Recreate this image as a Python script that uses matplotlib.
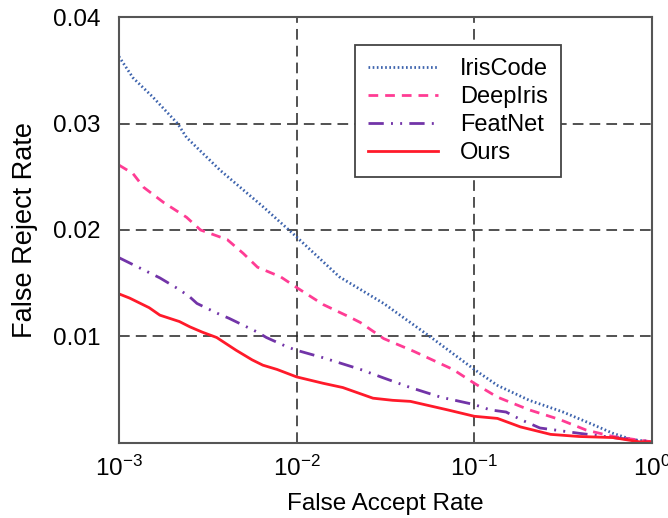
import numpy as np
import matplotlib
matplotlib.use('Agg')
import matplotlib.pyplot as plt

plt.rcParams['font.family'] = ['Liberation Sans', 'DejaVu Sans']
plt.rcParams['mathtext.fontset'] = 'custom'
plt.rcParams['mathtext.rm'] = 'Liberation Sans'
plt.rcParams['mathtext.it'] = 'Liberation Sans'

# curves (FAR, FRR)
iris_far = [1e-3, 1.20e-3, 1.55e-3, 2.14e-3, 2.40e-3, 3.72e-3, 6.46e-3, 9.77e-3,
            1.74e-2, 3.09e-2, 5.62e-2, 1e-1, 1.35e-1, 2.04e-1, 3.16e-1, 4.68e-1,
            6.03e-1, 7.76e-1, 1.0]
iris_frr = [0.0363, 0.0343, 0.0325, 0.0300, 0.0287, 0.0256, 0.0222, 0.0195,
            0.0156, 0.0131, 0.0100, 0.0069, 0.0054, 0.0040, 0.0029, 0.0017,
            0.0009, 0.0003, 0.0001]

deep_far = [1e-3, 1.20e-3, 1.38e-3, 1.78e-3, 2.40e-3, 2.88e-3, 4.07e-3, 5.01e-3,
            6.03e-3, 8.13e-3, 1e-2, 1.41e-2, 2.0e-2, 2.29e-2, 3.09e-2, 4.57e-2,
            7.59e-2, 1e-1, 1.35e-1, 2.04e-1, 3.02e-1, 4.27e-1, 6.03e-1, 1.0]
deep_frr = [0.0261, 0.0253, 0.0240, 0.0226, 0.0212, 0.0200, 0.0191, 0.0178,
            0.0165, 0.0156, 0.0146, 0.0130, 0.0118, 0.0113, 0.0098, 0.0086,
            0.0069, 0.0056, 0.0043, 0.0031, 0.0022, 0.0012, 0.0006, 0.0001]

feat_far = [1e-3, 1.15e-3, 1.70e-3, 2.19e-3, 2.51e-3, 2.75e-3, 3.55e-3, 4.17e-3,
            6.03e-3, 6.76e-3, 8.91e-3, 1e-2, 1.41e-2, 2.29e-2, 3.09e-2, 4.37e-2,
            6.46e-2, 1e-1, 1.23e-1, 1.51e-1, 1.82e-1, 2.34e-1, 2.88e-1, 3.89e-1,
            4.90e-1, 6.03e-1, 1.0]
feat_frr = [0.0174, 0.0169, 0.0155, 0.0144, 0.0137, 0.0131, 0.0122, 0.0117,
            0.0104, 0.0099, 0.0090, 0.0087, 0.0080, 0.0069, 0.0061, 0.0052,
            0.0043, 0.0036, 0.0031, 0.0029, 0.0022, 0.0014, 0.0012, 0.0009,
            0.0007, 0.0005, 0.0001]

ours_far = [1e-3, 1.15e-3, 1.48e-3, 1.70e-3, 2.19e-3, 2.51e-3, 2.95e-3, 3.55e-3,
            4.57e-3, 5.62e-3, 6.46e-3, 7.76e-3, 1e-2, 1.41e-2, 1.82e-2, 2.69e-2,
            3.47e-2, 4.37e-2, 7.08e-2, 1e-1, 1.35e-1, 1.82e-1, 2.69e-1, 3.89e-1,
            6.03e-1, 8.51e-1, 1.0]
ours_frr = [0.0140, 0.0136, 0.0127, 0.0120, 0.0114, 0.0109, 0.0104, 0.0099,
            0.0087, 0.0078, 0.0073, 0.0069, 0.0062, 0.0056, 0.0052, 0.0042,
            0.0040, 0.0039, 0.0031, 0.0025, 0.0023, 0.0015, 0.0008, 0.0006,
            0.0005, 0.0001, 0.0001]

x_ticks = [1e-3, 1e-2, 1e-1, 1e0]
x_tick_labels = [r'$\mathregular{10^{-3}}$', r'$\mathregular{10^{-2}}$',
                 r'$\mathregular{10^{-1}}$', r'$\mathregular{10^{0}}$']
y_ticks = [0.01, 0.02, 0.03, 0.04]
y_tick_labels = ['0.01', '0.02', '0.03', '0.04']

fig = plt.figure(figsize=(6.68, 5.18), dpi=100)
ax = fig.add_axes([0.178, 0.145, 0.798, 0.822])

ax.plot(iris_far, iris_frr, color='#3d63ad', lw=2.0, linestyle=(0, (0.6, 0.9)),
        label='IrisCode')
ax.plot(deep_far, deep_frr, color='#ff3c94', lw=2.0, linestyle=(0, (3.5, 2.5)),
        label='DeepIris')
ax.plot(feat_far, feat_frr, color='#7234a8', lw=2.0,
        linestyle=(0, (5.5, 2.6, 0.7, 2.6, 0.7, 2.6)), label='FeatNet')
ax.plot(ours_far, ours_frr, color='#ff1a2a', lw=2.0, label='Ours')

ax.set_xscale('log')
ax.set_xlim(1e-3, 1)
ax.set_ylim(0, 0.04)
ax.set_xticks(x_ticks)
ax.set_xticklabels(x_tick_labels)
ax.xaxis.set_minor_locator(matplotlib.ticker.NullLocator())
ax.set_yticks(y_ticks)
ax.set_yticklabels(y_tick_labels)
ax.tick_params(axis='x', length=0, labelsize=17.5, pad=9)
ax.tick_params(axis='y', length=0, labelsize=17.5, pad=13)

for v in [1e-2, 1e-1]:
    ax.axvline(v, color='#222222', lw=1.1, linestyle=(0, (7, 4)), zorder=0)
for v in [0.01, 0.02, 0.03]:
    ax.axhline(v, color='#222222', lw=1.1, linestyle=(0, (7, 4)), zorder=0)

for s in ax.spines.values():
    s.set_color('#555555')
    s.set_linewidth(1.5)

ax.set_xlabel('False Accept Rate', fontsize=17.5, labelpad=9)
ax.set_ylabel('False Reject Rate', fontsize=19.5, labelpad=11)

leg = ax.legend(loc='upper left', bbox_to_anchor=(0.443, 0.934), fontsize=17,
                frameon=True, fancybox=False, framealpha=1, handlelength=2.95,
                handletextpad=0.95, borderpad=0.55, labelspacing=0.25,
                borderaxespad=0)
leg.get_frame().set_edgecolor('#444444')
leg.get_frame().set_linewidth(1.3)

plt.savefig('out.png', dpi=100)
